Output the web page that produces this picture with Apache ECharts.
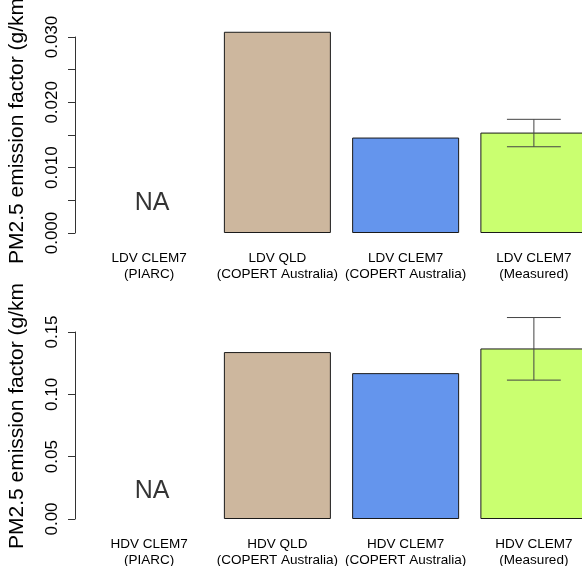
<!DOCTYPE html>
<html>
<head>
<meta charset="utf-8">
<script src="https://cdn.jsdelivr.net/npm/echarts@6/dist/echarts.min.js"></script>
<style>
  html, body { margin: 0; padding: 0; background: #fff; }
  #wrap { position: relative; width: 582px; height: 566px; overflow: hidden; }
  .panel { position: absolute; left: 0; width: 582px; height: 283px; }
</style>
</head>
<body>
<div id="wrap">
  <div id="top" class="panel" style="top:0"></div>
  <div id="bottom" class="panel" style="top:283px"></div>
</div>
<script>
// ---- data ----
const yTitle = 'PM2.5 emission factor (g/km)';
const categoriesLDV = ['LDV CLEM7\n(PIARC)', 'LDV QLD\n(COPERT Australia)', 'LDV CLEM7\n(COPERT Australia)', 'LDV CLEM7\n(Measured)'];
const valuesLDV = [null, 0.0308, 0.01461, 0.01537];
const errorLDV = [0.0132, 0.0174];          // low, high for the measured bar
const naLDV = 0.005;

const categoriesHDV = ['HDV CLEM7\n(PIARC)', 'HDV QLD\n(COPERT Australia)', 'HDV CLEM7\n(COPERT Australia)', 'HDV CLEM7\n(Measured)'];
const valuesHDV = [null, 0.1339, 0.117, 0.1368];
const errorHDV = [0.1114, 0.1616];
const naHDV = 0.025;

const barColors = [null, '#CDB79E', '#6495ED', '#CAFF70'];
const FONT = "'Liberation Sans', Arial, Helvetica, sans-serif";

function makeOption(cats, vals, err, naVal, cfg) {
  const barData = vals.map((v, i) => v == null ? null : ({
    value: v,
    itemStyle: { color: barColors[i], borderColor: '#1a1a1a', borderWidth: 1 }
  }));
  return {
    animation: false,
    backgroundColor: '#fff',
    grid: { left: 85, right: -16, top: cfg.top, bottom: cfg.bottom, containLabel: false, outerBoundsMode: 'none' },
    xAxis: {
      type: 'category',
      data: cats,
      axisLine: { show: false },
      axisTick: { show: false },
      splitLine: { show: false },
      axisLabel: {
        interval: 0, margin: 17, color: '#000', fontFamily: FONT, fontSize: 13.5,
        lineHeight: 16.5, align: 'center', hideOverlap: false
      }
    },
    yAxis: {
      type: 'value',
      min: 0, max: cfg.max, interval: cfg.interval,
      offset: 10,
      axisLine: { show: true, lineStyle: { color: '#333', width: 1 } },
      axisTick: { show: true, length: 7, lineStyle: { color: '#333', width: 1 } },
      splitLine: { show: false },
      axisLabel: {
        rotate: 90, margin: 14, color: '#000', fontFamily: FONT, fontSize: 17,
        formatter: cfg.fmt
      },
      name: yTitle,
      nameLocation: 'middle',
      nameRotate: 90,
      nameGap: 47,
      nameTruncate: { maxWidth: null },
      nameTextStyle: { color: '#000', fontFamily: FONT, fontSize: 21, padding: [0, 0, 0, cfg.namePad] }
    },
    series: [
      {
        type: 'bar',
        data: barData,
        barWidth: 107,
        clip: false,
        silent: true,
        z: 2
      },
      {
        type: 'custom',
        clip: false,
        silent: true,
        z: 5,
        data: [[3, err[0], err[1]]],
        renderItem: function (params, api) {
          const lo = api.coord([api.value(0), api.value(1)]);
          const hi = api.coord([api.value(0), api.value(2)]);
          const half = api.size([1, 0])[0] * 0.21;
          const st = { stroke: '#444', lineWidth: 1 };
          return {
            type: 'group',
            children: [
              { type: 'line', shape: { x1: lo[0], y1: lo[1], x2: hi[0], y2: hi[1] }, style: st },
              { type: 'line', shape: { x1: lo[0] - half, y1: lo[1], x2: lo[0] + half, y2: lo[1] }, style: st },
              { type: 'line', shape: { x1: hi[0] - half, y1: hi[1], x2: hi[0] + half, y2: hi[1] }, style: st }
            ]
          };
        }
      },
      {
        type: 'scatter',
        silent: true,
        symbolSize: 0,
        z: 5,
        data: [[0, naVal]],
        label: {
          show: true, position: 'inside', formatter: 'NA', offset: [3, 3],
          color: '#000', fontFamily: "'Liberation Sans Narrow', 'Liberation Sans', Arial, sans-serif", fontSize: 25
        }
      }
    ]
  };
}

const topChart = echarts.init(document.getElementById('top'), null, { renderer: 'canvas' });
topChart.setOption(makeOption(categoriesLDV, valuesLDV, errorLDV, naLDV, {
  top: 37, bottom: 50, max: 0.030, interval: 0.005,
  fmt: (v, i) => (Math.round(v * 1000) % 10 === 0) ? v.toFixed(3) : '',
  namePad: 15
}));

const bottomChart = echarts.init(document.getElementById('bottom'), null, { renderer: 'canvas' });
bottomChart.setOption(makeOption(categoriesHDV, valuesHDV, errorHDV, naHDV, {
  top: 49, bottom: 47, max: 0.15, interval: 0.05,
  fmt: (v) => v.toFixed(2),
  namePad: 26
}));
</script>
</body>
</html>
